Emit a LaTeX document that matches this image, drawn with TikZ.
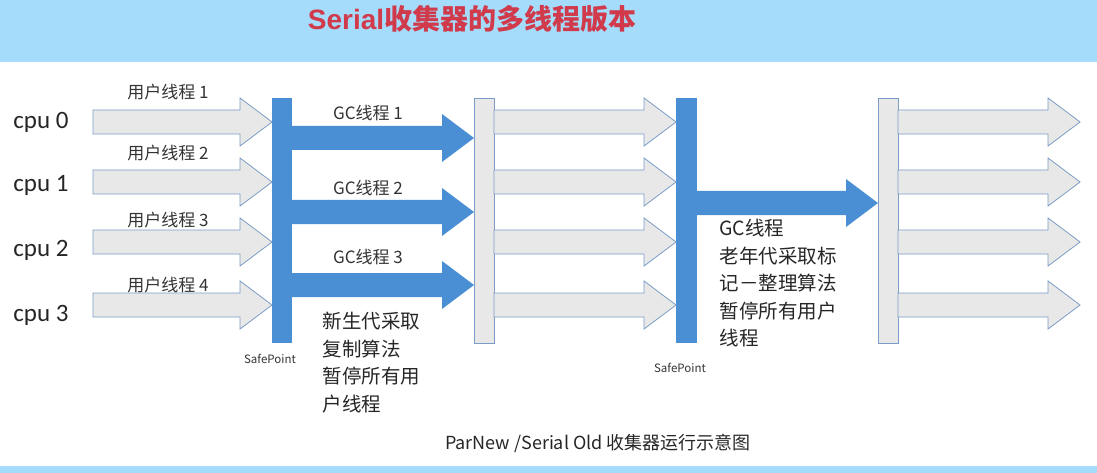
\documentclass[tikz,border=0pt]{standalone}
\usepackage{fontspec}
\setmainfont{Carlito}
\newfontfamily\cjk{Noto Sans CJK SC}
\newfontfamily\tfont{Liberation Sans}
\definecolor{band}{HTML}{A6DCFB}
\definecolor{bblue}{HTML}{4A8FD4}
\definecolor{gfill}{HTML}{E8E8E8}
\definecolor{gline}{HTML}{7A9CC6}
\definecolor{tred}{HTML}{D03A4A}
\newcommand\fatarrow[5]{% x1,x2,y,style,bodyhalf
  \path[#4] (#1,#3-#5) -- (#2-32,#3-#5) -- (#2-32,#3-24) -- (#2,#3) -- (#2-32,#3+24) -- (#2-32,#3+#5) -- (#1,#3+#5) -- cycle;}
\begin{document}
\begin{tikzpicture}[x=1pt,y=-1pt,
  garr/.style={fill=gfill,draw=gline,line width=0.8pt},
  barr/.style={fill=bblue},
  lbl/.style={font=\cjk\fontsize{17}{19}\selectfont,text=black!80},
  note/.style={font=\cjk\fontsize{19.5}{27.5}\selectfont,align=left,anchor=north west,text=black!85},
  cpul/.style={font=\fontsize{25}{28}\selectfont,text=black!85},
  sp/.style={font=\cjk\fontsize{11.5}{13}\selectfont,text=black!80}]
\useasboundingbox (0,0) rectangle (1097,473);
\fill[band] (0,0) rectangle (1097,62);
\fill[band] (0,466) rectangle (1097,473);
\node[font=\tfont\bfseries\fontsize{28}{30}\selectfont,text=tred] (title) at (472,19) {Serial{\cjk 收集器的多线程版本}};
\foreach \y/\n [count=\i from 0] in {122/0,185/1,250/2,315/3}
  \node[cpul] (cpu\i) at (41,\y) {cpu \n};
\node[fill=bblue,minimum width=20pt,minimum height=245pt,inner sep=0] (b1) at (282,220.5) {};
\node[fill=gfill,draw=gline,line width=0.8pt,minimum width=20pt,minimum height=245pt,inner sep=0] (b2) at (484,220.5) {};
\node[fill=bblue,minimum width=21pt,minimum height=245pt,inner sep=0] (b3) at (686.5,220.5) {};
\node[fill=gfill,draw=gline,line width=0.8pt,minimum width=20pt,minimum height=245pt,inner sep=0] (b4) at (888,220.5) {};
\foreach \y in {122,182,242,305}{
  \fatarrow{93}{272}{\y}{garr}{12}
  \fatarrow{494}{676}{\y}{garr}{12}
  \fatarrow{898}{1080}{\y}{garr}{12}
}
\foreach \y in {138,212,285}{ \fatarrow{292}{474}{\y}{barr}{12} }
\fatarrow{697}{878}{203}{barr}{12}
\foreach \y/\n in {92/1,153/2,220/3,285/4}
  \node[lbl] (u\n) at (168,\y) {用户线程 \n};
\foreach \y/\n in {113/1,188/2,257/3}
  \node[lbl] (g\n) at (368,\y) {GC线程 \n};
\node[note] (n1) at (319,309) {新生代采取\\复制算法\\暂停所有用\\户线程};
\node[note] (n2) at (716,216) {GC线程\\老年代采取标\\记－整理算法\\暂停所有用户\\线程};
\node[sp] (sp1) at (270,359) {SafePoint};
\node[sp] (sp2) at (680,368) {SafePoint};
\node[font=\cjk\fontsize{18}{20}\selectfont,text=black!85] (cap) at (598,443) {ParNew /Serial Old 收集器运行示意图};
\end{tikzpicture}
\end{document}
